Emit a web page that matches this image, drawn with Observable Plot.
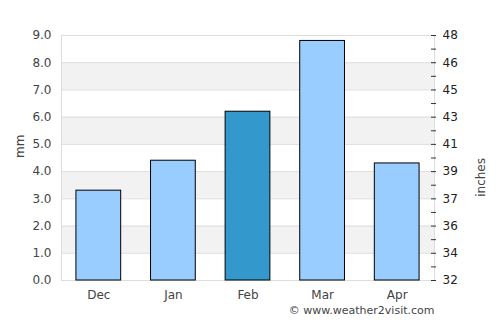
<!DOCTYPE html>
<html><head><meta charset="utf-8">
<script src="https://cdn.jsdelivr.net/npm/d3@7"></script>
<script src="https://cdn.jsdelivr.net/npm/@observablehq/plot@0.6"></script>
<style>body{margin:0;background:#fff;font-family:"DejaVu Sans",sans-serif}</style>
</head><body><div id="chart"></div>
<script>
const months = ["Dec", "Jan", "Feb", "Mar", "Apr"];
const rainfall = [3.3, 4.4, 6.2, 8.8, 4.3];
const highlight = [false, false, true, false, false];
const leftTicks = [0, 1, 2, 3, 4, 5, 6, 7, 8, 9];
const rightTickLabels = ["32", "34", "36", "37", "39", "41", "43", "45", "46", "48"];
const bandStarts = [1, 3, 5, 7];

const data = months.map((m, i) => ({month: m, value: rainfall[i], hl: highlight[i]}));
const bands = bandStarts.map(s => ({y1: s, y2: s + 1}));
const minorTicks = d3.range(0, 9.01, 0.5);

const chart = Plot.plot({
  width: 500, height: 325,
  marginTop: 35, marginBottom: 45, marginLeft: 61, marginRight: 66,
  style: {fontFamily: "DejaVu Sans, sans-serif", fontSize: "12px", color: "#444", background: "#fff"},
  x: {domain: months, paddingInner: 0.4, paddingOuter: 0.2, round: false, label: null},
  y: {domain: [0, 9], label: null},
  marks: [
    Plot.rect(bands, {x1: () => months[0], x2: () => months[4], y1: "y1", y2: "y2", fill: "#f2f2f2", insetLeft: -100, insetRight: -100, clip: true}),
    Plot.ruleY(leftTicks, {stroke: "#dddddd"}),
    Plot.frame({stroke: "#dddddd"}),
    Plot.barY(data, {x: "month", y: "value", fill: d => d.hl ? "#3399cc" : "#99ccff", stroke: "#000", strokeWidth: 1}),
    Plot.axisY(leftTicks, {anchor: "left", tickSize: 0, tickPadding: 10, tickFormat: d3.format(".1f"), label: null, fill: "#444"}),
    Plot.axisY(minorTicks, {anchor: "right", tickSize: 5, dx: -4, tickPadding: 7, stroke: "#333",
      tickFormat: d => Number.isInteger(d) ? rightTickLabels[d] : "", label: null, fill: "#222"}),
    Plot.axisX({tickSize: 0, tickPadding: 10, label: null, fill: "#444"}),
    Plot.text(["mm"], {frameAnchor: "left", dx: -41, rotate: -90, fill: "#444", fontSize: 12}),
    Plot.text(["inches"], {frameAnchor: "right", dx: 47, rotate: -90, fill: "#444", fontSize: 12}),
    Plot.text(["© www.weather2visit.com"], {frameAnchor: "bottom-right", dy: 33, dx: 0, textAnchor: "end", fill: "#444", fontSize: 11})
  ]
});
document.getElementById("chart").appendChild(chart);
</script>
</body></html>
